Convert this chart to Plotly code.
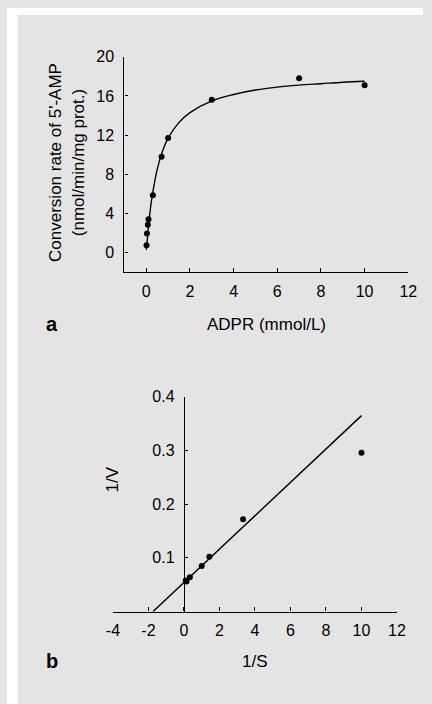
import plotly.graph_objects as go

# ---- Panel a data (Michaelis-Menten) ----
adpr_conc = [0.01, 0.03, 0.07, 0.1, 0.3, 0.7, 1.0, 3.0, 7.0, 10.0]
conv_rate = [0.75, 1.95, 2.85, 3.4, 5.85, 9.8, 11.7, 15.6, 17.8, 17.1]
# fitted curve
curve_x = [0.0, 0.05, 0.1, 0.2, 0.3, 0.5, 0.7, 1.0, 1.5, 2.0, 3.0, 4.0, 5.0, 6.0, 7.0, 8.0, 9.0, 10.0]
curve_y = [0.3, 1.45, 2.7, 4.7, 6.2, 8.5, 10.1, 11.7, 13.3, 14.3, 15.5, 16.15, 16.6, 16.9, 17.1, 17.25, 17.4, 17.5]

# ---- Panel b data (Lineweaver-Burk) ----
inv_s = [0.1, 0.143, 0.333, 1.0, 1.43, 3.33, 10.0]
inv_v = [0.058, 0.056, 0.064, 0.085, 0.102, 0.172, 0.296]
fit_x = [-1.74, 10.0]
fit_y = [0.0, 0.365]

a_xticks = [0, 2, 4, 6, 8, 10, 12]
a_yticks = [0, 4, 8, 12, 16, 20]
b_xticks = [-4, -2, 0, 2, 4, 6, 8, 10, 12]
b_xticklabels = ["-4", "-2", "0", "2", "4", "6", "8", "10", "12"]
b_yticks = [0.1, 0.2, 0.3, 0.4]
b_yticklabels = ["0.1", "0.2", "0.3", "0.4"]

W, H = 432, 704
FONT = "Liberation Sans, Arial, sans-serif"
BG = "#e4e4e4"

# pixel geometry -> paper fractions
a_x0, a_x1 = 122.0, 416.7
a_ytop, a_ybot = 49.3, 267.3
b_x0, b_x1 = 110.0, 405.0
b_ytop, b_ybot = 393.3, 610.5

a_xdom = [a_x0 / W, a_x1 / W]
a_ydom = [1 - a_ybot / H, 1 - a_ytop / H]
b_xdom = [b_x0 / W, b_x1 / W]
b_ydom = [1 - b_ybot / H, 1 - b_ytop / H]
b_xrange = [-4, 12]
b_ypos = b_xdom[0] + (0 - b_xrange[0]) / (b_xrange[1] - b_xrange[0]) * (b_xdom[1] - b_xdom[0])

fig = go.Figure()
fig.add_trace(go.Scatter(x=curve_x, y=curve_y, mode="lines", line=dict(color="black", width=1.4, shape="spline"),
                         xaxis="x", yaxis="y", showlegend=False, hoverinfo="skip"))
fig.add_trace(go.Scatter(x=adpr_conc, y=conv_rate, mode="markers", marker=dict(color="black", size=6),
                         xaxis="x", yaxis="y", showlegend=False))
fig.add_trace(go.Scatter(x=fit_x, y=fit_y, mode="lines", line=dict(color="black", width=1.4),
                         xaxis="x2", yaxis="y2", showlegend=False, hoverinfo="skip"))
fig.add_trace(go.Scatter(x=inv_s, y=inv_v, mode="markers", marker=dict(color="black", size=6),
                         xaxis="x2", yaxis="y2", showlegend=False))

axis_common = dict(showgrid=False, zeroline=False, showline=True, linecolor="black", linewidth=1.3,
                   ticks="inside", tickcolor="black", tickwidth=1, tickfont=dict(family=FONT, size=16, color="black"))

fig.update_layout(
    width=W, height=H,
    margin=dict(l=0, r=0, t=0, b=0),
    paper_bgcolor=BG, plot_bgcolor=BG,
    font=dict(family=FONT, color="black"),
    xaxis=dict(domain=a_xdom, range=[-1, 12], anchor="y", tickvals=a_xticks, ticklen=4,
               ticklabelstandoff=4, **axis_common),
    yaxis=dict(domain=a_ydom, range=[-2, 20], anchor="x", tickvals=a_yticks, ticklen=3,
               ticklabelstandoff=6, **axis_common),
    xaxis2=dict(domain=b_xdom, range=b_xrange, anchor="y2", tickvals=b_xticks, ticktext=b_xticklabels,
                ticklen=4, ticklabelstandoff=4, **axis_common),
    yaxis2=dict(domain=b_ydom, range=[0, 0.4], anchor="free", position=b_ypos, tickvals=b_yticks,
                ticktext=b_yticklabels, ticklen=3, ticklabelstandoff=6, **axis_common),
    shapes=[
        dict(type="rect", xref="paper", yref="paper", x0=0, x1=11 / W, y0=0, y1=1,
             fillcolor="white", line=dict(width=0), layer="below"),
        dict(type="rect", xref="paper", yref="paper", x0=0, x1=1, y0=1 - 7 / H, y1=1,
             fillcolor="white", line=dict(width=0), layer="below"),
    ],
)

ann = [
    dict(text="Conversion rate of 5'-AMP<br>(nmol/min/mg prot.)", x=62 / W, y=1 - 156 / H, textangle=-90,
         font=dict(size=17)),
    dict(text="ADPR (mmol/L)", x=269 / W, y=1 - 320 / H, font=dict(size=17)),
    dict(text="<b>a</b>", x=47 / W, y=1 - 320 / H, font=dict(size=20)),
    dict(text="1/V", x=110 / W, y=1 - 477 / H, textangle=-90, font=dict(size=17)),
    dict(text="1/S", x=258 / W, y=1 - 661 / H, font=dict(size=17)),
    dict(text="<b>b</b>", x=47 / W, y=1 - 661 / H, font=dict(size=20)),
]
for a in ann:
    a.update(xref="paper", yref="paper", showarrow=False, xanchor="center", yanchor="middle")
    a["font"].update(family=FONT, color="black")
fig.update_layout(annotations=ann)

fig.write_html("out.html", config={"displayModeBar": False},
               post_script="document.body.style.margin='0px';")
